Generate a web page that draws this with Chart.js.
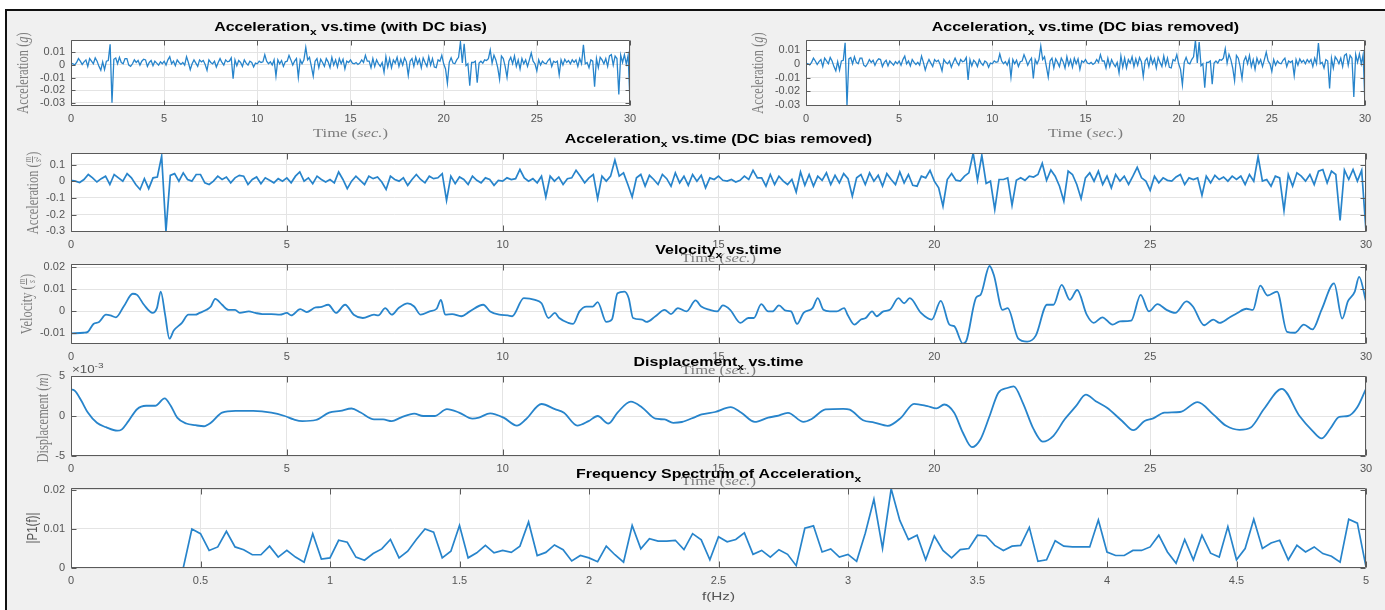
<!DOCTYPE html>
<html>
<head>
<meta charset="utf-8">
<script src="https://cdn.jsdelivr.net/npm/chart.js@4.4.1/dist/chart.umd.min.js"></script>
<style>
html,body{margin:0;padding:0;background:#fff;width:1385px;height:610px;overflow:hidden}
#frame{position:absolute;left:5px;top:9px;width:1380px;height:601px;background:#f0f0f0;border-top:2px solid #111;border-left:2px solid #111;box-sizing:border-box}
canvas{position:absolute;left:0;top:0}
</style>
</head>
<body>
<div id="frame"></div>
<canvas id="c1" width="1385" height="610"></canvas>
<canvas id="c2" width="1385" height="610"></canvas>
<canvas id="c3" width="1385" height="610"></canvas>
<canvas id="c4" width="1385" height="610"></canvas>
<canvas id="c5" width="1385" height="610"></canvas>
<canvas id="c6" width="1385" height="610"></canvas>
<script>
// ---------------- DATA ----------------
const TIME_STEP = 0.1;      // s (10 Hz sampling)
const G = 9.81;             // m/s^2 per g
const DC_BIAS_G = 0.0008;   // g
const FREQ_STEP = 1 / 30;   // Hz (Fs / L)

// Acceleration x, DC bias removed, m/s^2, t = 0 .. 30 s
const accel = [
  0.005, 0.000,-0.008, 0.010, 0.040, 0.020,-0.005, 0.015, 0.030,-0.020,
  0.040, 0.020, 0.000, 0.045, 0.020,-0.020,-0.050, 0.015,-0.045, 0.020,
  0.025, 0.150,-0.300, 0.035, 0.045, 0.000, 0.050, 0.010, 0.000, 0.040,
  0.040,-0.010,-0.020, 0.000, 0.030, 0.010, 0.025,-0.010, 0.020, 0.035,
  0.030,-0.020, 0.010, 0.025,-0.015, 0.020, 0.005,-0.010, 0.015, 0.000,
  0.020,-0.010, 0.030, 0.055, 0.000, 0.020,-0.015, 0.030, 0.010,-0.005,
  0.010,-0.010, 0.055, 0.010,-0.045, 0.000, 0.030, 0.005,-0.020, 0.030,
  0.015, 0.025,-0.005,-0.050, 0.030, 0.010, 0.000, 0.020,-0.025, 0.010,
  0.040, 0.010,-0.010, 0.030, 0.015, 0.020, 0.045,-0.115, 0.030,-0.015,
  0.025, 0.010,-0.020, 0.030, 0.005,-0.010, 0.020, 0.010,-0.025, 0.005,
  0.000, 0.020, 0.010, 0.015, 0.070, 0.020, 0.000, 0.015,-0.010, 0.030,
 -0.095, 0.030, 0.000, 0.025,-0.020, 0.015, 0.020, 0.065, 0.030,-0.010,
  0.020, 0.040,-0.105, 0.030, 0.000, 0.030, 0.127, 0.030, 0.050,-0.020,
 -0.095, 0.020, 0.040,-0.030, 0.035, 0.010,-0.020, 0.040, 0.015,-0.030,
  0.050,-0.010, 0.030,-0.025, 0.040, 0.000, 0.035,-0.040, 0.020, 0.010,
  0.030, 0.005, 0.000, 0.010,-0.005, 0.005, 0.030, 0.010, 0.065, 0.020,
  0.020,-0.030, 0.040,-0.020, 0.030, 0.000,-0.020, 0.010,-0.065, 0.055,
 -0.025, 0.040,-0.030, 0.030, 0.005, 0.050,-0.020, 0.035,-0.010, 0.045,
  0.015,-0.090, 0.020, 0.040,-0.020, 0.050, 0.000, 0.035,-0.030, 0.045,
  0.010,-0.020, 0.055,-0.010, 0.040,-0.025,-0.030, 0.030, 0.020, 0.065,
  0.000,-0.040,-0.150, 0.010, 0.046, 0.006, 0.000, 0.030, 0.050, 0.168,
  0.006, 0.155,-0.014, 0.000,-0.170, 0.010, 0.010, 0.020,-0.145, 0.005,
  0.020, 0.005, 0.030, 0.025, 0.040, 0.107, 0.005, 0.067, 0.030,-0.030,
 -0.120, 0.060, 0.040,-0.020,-0.105, 0.020, 0.050, 0.000, 0.060,-0.020,
  0.030,-0.040, 0.040, 0.000, 0.030,-0.020, 0.030, 0.083, 0.020, 0.000,
 -0.055, 0.030,-0.010, 0.020, 0.005, 0.000, 0.025, 0.040,-0.020, 0.020,
  0.010, 0.020,-0.085, 0.030,-0.010, 0.035, 0.010, 0.025, 0.000, 0.030,
  0.010, 0.030,-0.020, 0.040, 0.000, 0.147, 0.000, 0.010,-0.030, 0.030,
  0.020,-0.176, 0.040,-0.030, 0.050, 0.030, 0.000, 0.040,-0.020, 0.060,
  0.070,-0.010, 0.060, 0.040,-0.236, 0.067, 0.010, 0.070, 0.000, 0.065,
 -0.300
];

// Velocity x (m/s): time (s) and value
const velT = [0,0.29,0.39,0.52,0.65,0.81,0.91,1.04,1.22,1.43,1.53,1.69,1.89,1.99,2.08,2.18,2.28,2.38,2.57,2.72,2.88,2.98,3.14,3.24,3.34,3.50,3.65,3.80,3.91,4.12,4.27,4.43,4.64,4.84,5.00,5.10,5.31,5.46,5.67,5.77,5.96,6.14,6.35,6.55,6.76,7.02,7.12,7.28,7.43,7.59,7.80,7.95,8.10,8.31,8.47,8.57,8.67,8.83,9.04,9.24,9.55,9.71,9.92,10.12,10.22,10.49,10.75,10.90,11.06,11.21,11.31,11.52,11.63,11.78,11.94,12.09,12.20,12.40,12.53,12.66,12.82,12.92,13.02,13.23,13.33,13.54,13.75,13.90,14.06,14.26,14.47,14.60,14.80,14.97,15.10,15.27,15.51,15.69,15.82,15.99,16.15,16.25,16.40,16.56,16.68,16.82,16.97,17.18,17.30,17.43,17.58,17.74,17.91,17.99,18.15,18.30,18.41,18.56,18.66,18.82,18.97,19.17,19.30,19.43,19.69,19.94,20.15,20.35,20.46,20.66,20.74,20.97,21.07,21.28,21.38,21.58,21.70,21.94,22.15,22.35,22.61,22.76,22.95,23.14,23.31,23.53,23.69,23.89,24.13,24.30,24.56,24.78,24.97,25.17,25.38,25.58,25.84,25.99,26.25,26.46,26.61,26.82,27.02,27.23,27.38,27.55,27.72,27.94,28.17,28.35,28.56,28.76,28.97,29.26,29.45,29.58,29.74,29.84,30.00];
const velV = [-0.0100,-0.0097,-0.0093,-0.0057,-0.0048,-0.0015,-0.0018,-0.0027,0.0022,0.0080,0.0075,0.0030,-0.0007,0.0015,0.0090,-0.0015,-0.0124,-0.0087,-0.0052,-0.0015,-0.0015,-0.0007,0.0007,0.0022,0.0057,0.0030,0.0007,0.0007,-0.0007,0.0000,-0.0007,-0.0012,-0.0012,-0.0015,-0.0007,-0.0018,0.0010,-0.0003,0.0018,0.0019,0.0030,-0.0007,0.0030,-0.0015,-0.0030,-0.0015,-0.0018,0.0015,-0.0015,0.0015,0.0036,0.0022,-0.0015,0.0000,0.0012,0.0052,-0.0015,-0.0012,-0.0022,0.0000,0.0030,0.0000,-0.0015,-0.0018,-0.0022,0.0060,0.0052,0.0037,-0.0030,-0.0007,-0.0030,-0.0052,-0.0057,0.0000,0.0022,0.0022,0.0042,-0.0048,-0.0037,0.0082,0.0090,0.0060,-0.0030,-0.0037,-0.0048,-0.0022,0.0007,-0.0012,0.0015,0.0000,0.0050,0.0022,0.0007,0.0000,0.0027,0.0007,-0.0052,-0.0030,-0.0030,0.0033,0.0000,0.0000,0.0027,0.0003,0.0000,-0.0057,-0.0007,0.0015,0.0060,0.0007,0.0000,0.0000,0.0015,-0.0015,-0.0060,-0.0037,-0.0030,0.0000,-0.0022,0.0000,0.0007,0.0060,0.0037,0.0060,-0.0007,-0.0037,0.0048,-0.0060,-0.0067,-0.0146,-0.0134,0.0063,0.0075,0.0206,0.0164,0.0007,0.0015,-0.0122,-0.0137,-0.0110,0.0030,0.0030,0.0120,0.0052,0.0097,-0.0015,-0.0052,-0.0027,-0.0060,-0.0045,-0.0042,0.0075,0.0000,0.0033,0.0007,-0.0007,0.0045,0.0022,-0.0063,-0.0037,-0.0052,-0.0030,-0.0007,0.0012,0.0007,0.0117,0.0072,0.0090,-0.0093,-0.0097,-0.0060,-0.0082,0.0007,0.0127,-0.0033,0.0045,0.0090,0.0157,0.0045];

// Displacement x (units of 1e-3 m): time (s) and value
const dispT = [0,0.08,0.24,0.39,0.60,0.81,1.07,1.17,1.33,1.53,1.74,1.95,2.17,2.31,2.46,2.67,2.88,3.08,3.24,3.50,3.81,4.22,4.64,4.95,5.16,5.36,5.67,5.98,6.24,6.50,6.71,7.02,7.23,7.43,7.64,7.95,8.16,8.42,8.71,8.99,9.30,9.45,9.71,10.02,10.33,10.54,10.90,11.21,11.42,11.73,11.99,12.20,12.45,12.66,12.97,13.23,13.54,13.75,13.95,14.15,14.47,14.61,14.92,15.28,15.53,15.84,16.15,16.35,16.61,16.97,17.15,17.48,17.89,18.04,18.35,18.61,18.92,19.23,19.53,19.84,20.05,20.23,20.46,20.66,20.87,21.07,21.28,21.48,21.69,21.84,22.05,22.30,22.51,22.76,23.02,23.28,23.51,23.74,24.00,24.35,24.61,24.87,25.07,25.33,25.69,26.10,26.46,26.76,27.07,27.33,27.64,28.05,28.46,28.76,28.97,29.17,29.38,29.58,29.79,30.00];
const dispV = [3.3,3.2,1.9,0.43,-0.85,-1.4,-1.84,-1.7,-0.64,0.85,1.28,1.28,2.2,1.28,-0.2,-0.94,-1.15,-1.28,-0.85,0.43,0.64,0.64,0.43,0.0,-0.43,-0.64,-0.5,0.43,0.64,0.94,0.43,-0.43,-0.43,-0.64,-0.2,0.3,0.0,0.0,0.85,0.43,-0.34,-0.2,0.34,-0.2,-1.2,-0.4,1.5,0.85,0.4,-1.2,-0.64,0.0,-0.94,0.43,1.8,1.07,-0.34,-0.43,-0.85,-0.75,-0.1,0.2,0.5,1.1,0.4,-0.74,-0.2,0.0,0.4,-0.74,-0.4,0.82,0.9,0.8,-0.53,-0.82,-1.23,-0.2,1.52,1.23,0.95,1.44,0.41,-2.06,-3.9,-2.9,0.0,2.88,3.5,3.7,1.65,-1.65,-3.2,-2.47,-0.41,1.23,2.67,1.85,1.03,-0.62,-1.77,-0.62,-0.3,0.41,0.5,1.73,0.2,-1.23,-1.73,-1.44,0.9,3.4,0.0,-1.85,-2.8,-1.6,-0.1,0.0,1.03,3.4];

// Single-sided amplitude spectrum |P1(f)|, f = k * FREQ_STEP, k = 0..150
const spectrum = [
  0,0,0,0,0,0,0,0,0,0,0,0,0,0,
  0.0100,0.0088,0.0045,0.0054,0.0094,0.0054,0.0047,0.0034,0.0034,0.0056,
  0.0028,0.0045,0.0028,0.0015,0.0088,0.0023,0.0026,0.0071,0.0066,0.0028,
  0.0020,0.0037,0.0049,0.0073,0.0026,0.0043,0.0073,0.0100,0.0092,0.0026,
  0.0043,0.0109,0.0026,0.0039,0.0058,0.0039,0.0045,0.0040,0.0056,0.0118,
  0.0032,0.0040,0.0059,0.0047,0.0018,0.0032,0.0026,0.0016,0.0056,0.0034,
  0.0015,0.0109,0.0049,0.0075,0.0069,0.0069,0.0071,0.0047,0.0088,0.0072,
  0.0021,0.0080,0.0067,0.0073,0.0090,0.0035,0.0045,0.0028,0.0047,0.0035,
  0.0006,0.0102,0.0108,0.0041,0.0049,0.0028,0.0035,0.0017,0.0089,0.0176,
  0.0050,0.0203,0.0122,0.0073,0.0084,0.0021,0.0082,0.0045,0.0026,0.0047,
  0.0050,0.0084,0.0082,0.0058,0.0045,0.0056,0.0058,0.0104,0.0017,0.0021,
  0.0070,0.0056,0.0054,0.0054,0.0054,0.0123,0.0041,0.0032,0.0032,0.0045,
  0.0045,0.0054,0.0084,0.0041,0.0012,0.0073,0.0021,0.0084,0.0038,0.0028,
  0.0106,0.0021,0.0050,0.0125,0.0050,0.0064,0.0071,0.0021,0.0058,0.0041,
  0.0054,0.0037,0.0030,0.0015,0.0125,0.0115,0.0003
];

// Tick values
const xTicksTime = [0, 5, 10, 15, 20, 25, 30];
const xTicksFreq = [0, 0.5, 1, 1.5, 2, 2.5, 3, 3.5, 4, 4.5, 5];
const yTicksAccG = [-0.03, -0.02, -0.01, 0, 0.01];
const yTicksAccMS = [-0.3, -0.2, -0.1, 0, 0.1];
const yTicksVel = [-0.01, 0, 0.01, 0.02];
const yTicksDisp = [-5, 0, 5];
const yTicksSpec = [0, 0.01, 0.02];

// ---------------- STYLE ----------------
const W = 1385, H = 610;
const SANS = '"Liberation Sans", Arial, Helvetica, sans-serif';
const SERIF = '"Liberation Serif", "Times New Roman", serif';
const SX = 1.33; // horizontal text stretch seen in the figure
const LINE_COLOR = '#2784cb';
const AXIS_COLOR = '#5a5a5a';
const GRID_COLOR = '#e4e4e4';
const TICK_TEXT = '#555555';
const LABEL_TEXT = '#7d7d7d';

function T(text, font, opt) { return Object.assign({ text: text, font: font }, opt || {}); }
const titleFont = 'bold 12px ' + SANS, subFont = 'bold 9px ' + SANS;
function titleSegs(main, rest) { return [T(main, titleFont), T('x', subFont, { dy: 4 }), T(rest, titleFont)]; }
const serifN = '12.5px ' + SERIF, serifI = 'italic 12.5px ' + SERIF, fracFont = 'italic 7.5px ' + SERIF;
const timeLabel = [T('Time (', serifN), T('sec.', serifI), T(')', serifN)];
const accGLabel = [T('Acceleration (', serifN), T('g', serifI), T(')', serifN)];
const accMSLabel = [T('Acceleration (', serifN), { frac: true, num: 'm', den: 's\u00B2', font: fracFont }, T(')', serifN)];
const velLabel = [T('Velocity (', serifN), { frac: true, num: 'm', den: 's', font: fracFont }, T(')', serifN)];
const dispLabel = [T('Displacement (', serifN), T('m', serifI), T(')', serifN)];
const specLabel = [T('|P1(f)|', '11.5px ' + SANS)];
const freqLabel = [T('f(Hz)', '11.5px ' + SANS)];
const expLabel = [T('\u00D710', '10px ' + SANS), T('-3', '7.5px ' + SANS, { dy: -5 })];

function segWidth(ctx, s) {
  ctx.font = s.font;
  if (s.frac) return Math.max(ctx.measureText(s.num).width, ctx.measureText(s.den).width) + 2;
  return ctx.measureText(s.text).width;
}
function drawRich(ctx, segs, x, y, opt) {
  ctx.save();
  ctx.translate(x, y);
  ctx.scale(SX, 1);
  if (opt.rot) ctx.rotate(opt.rot);
  let total = 0;
  segs.forEach(s => total += segWidth(ctx, s));
  let cx = opt.align === 'left' ? 0 : -total / 2;
  ctx.textAlign = 'left';
  ctx.textBaseline = 'alphabetic';
  ctx.fillStyle = opt.color;
  segs.forEach(s => {
    const w = segWidth(ctx, s);
    ctx.font = s.font;
    if (s.frac) {
      const wn = ctx.measureText(s.num).width, wd = ctx.measureText(s.den).width;
      ctx.fillText(s.num, cx + (w - wn) / 2, -5.5);
      ctx.fillText(s.den, cx + (w - wd) / 2, 2.5);
      ctx.fillRect(cx + 0.5, -4.5, w - 1, 0.7);
    } else {
      ctx.fillText(s.text, cx, s.dy || 0);
    }
    cx += w;
  });
  ctx.restore();
}

const fmt = v => String(parseFloat(Number(v).toFixed(6)));

// ---------------- PANELS ----------------
const timeAxis = accel.map((_, i) => +(i * TIME_STEP).toFixed(1));
const PANELS = {
  c1: { box: [71, 40, 630, 106], xMin: 0, xMax: 30, yMin: -0.0324, yMax: 0.0195,
        xTicks: xTicksTime, yTicks: yTicksAccG, lw: 1.3, smooth: false, tl: 5, ytl: 4,
        points: accel.map((a, i) => ({ x: timeAxis[i], y: a / G + DC_BIAS_G })),
        title: { segs: titleSegs('Acceleration', ' vs.time (with DC bias)'), x: 350.5, y: 30.5 },
        xlabel: { segs: timeLabel, x: 350.5, y: 137 },
        ylabel: { segs: accGLabel, x: 28, y: 73 } },
  c2: { box: [806, 40, 1365, 106], xMin: 0, xMax: 30, yMin: -0.0307, yMax: 0.0173,
        xTicks: xTicksTime, yTicks: yTicksAccG, lw: 1.3, smooth: false, tl: 5, ytl: 4,
        points: accel.map((a, i) => ({ x: timeAxis[i], y: a / G })),
        title: { segs: titleSegs('Acceleration', ' vs.time (DC bias removed)'), x: 1085.5, y: 30.5 },
        xlabel: { segs: timeLabel, x: 1085.5, y: 137 },
        ylabel: { segs: accGLabel, x: 763, y: 73 } },
  c3: { box: [71, 153, 1366, 232], xMin: 0, xMax: 30, yMin: -0.305, yMax: 0.169,
        xTicks: xTicksTime, yTicks: yTicksAccMS, lw: 1.7, smooth: false, tl: 6, ytl: 5,
        points: accel.map((a, i) => ({ x: timeAxis[i], y: a })),
        title: { segs: titleSegs('Acceleration', ' vs.time (DC bias removed)'), x: 718.5, y: 143 },
        xlabel: { segs: timeLabel, x: 718.5, y: 262 },
        ylabel: { segs: accMSLabel, x: 38, y: 193 } },
  c4: { box: [71, 264, 1366, 344], xMin: 0, xMax: 30, yMin: -0.0148, yMax: 0.0215,
        xTicks: xTicksTime, yTicks: yTicksVel, lw: 1.8, smooth: true, tl: 6, ytl: 5,
        points: velT.map((t, i) => ({ x: t, y: velV[i] })),
        title: { segs: titleSegs('Velocity', ' vs.time'), x: 718.5, y: 254 },
        xlabel: { segs: timeLabel, x: 718.5, y: 374 },
        ylabel: { segs: velLabel, x: 32, y: 304 } },
  c5: { box: [71, 376, 1366, 456], xMin: 0, xMax: 30, yMin: -5, yMax: 5,
        xTicks: xTicksTime, yTicks: yTicksDisp, lw: 1.8, smooth: true, tl: 6, ytl: 5,
        points: dispT.map((t, i) => ({ x: t, y: dispV[i] })),
        title: { segs: titleSegs('Displacement', ' vs.time'), x: 718.5, y: 366 },
        xlabel: { segs: timeLabel, x: 718.5, y: 485 },
        ylabel: { segs: dispLabel, x: 48, y: 418 },
        extra: { segs: expLabel, x: 72, y: 373 } },
  c6: { box: [71, 488, 1366, 568], xMin: 0, xMax: 5, yMin: 0, yMax: 0.0205,
        xTicks: xTicksFreq, yTicks: yTicksSpec, lw: 1.7, smooth: false, tl: 6, ytl: 5,
        points: spectrum.map((v, k) => ({ x: k * FREQ_STEP, y: v })),
        title: { segs: titleSegs('Frequency Spectrum of Acceleration', ''), x: 718.5, y: 478 },
        xlabel: { segs: freqLabel, x: 718.5, y: 600 },
        ylabel: { segs: specLabel, x: 37, y: 528 } }
};

const matlabAxes = {
  id: 'matlabAxes',
  beforeDraw(chart) {
    const { ctx, chartArea: a } = chart;
    ctx.save();
    ctx.fillStyle = '#ffffff';
    ctx.fillRect(a.left, a.top, a.width, a.height);
    ctx.restore();
  },
  afterDatasetsDraw(chart) {
    const p = PANELS[chart.canvas.id];
    const { ctx, chartArea: a, scales: { x, y } } = chart;
    ctx.save();
    ctx.strokeStyle = AXIS_COLOR;
    ctx.lineWidth = 1;
    const L = Math.round(a.left) + 0.5, R = Math.round(a.right) - 0.5;
    const Tt = Math.round(a.top) + 0.5, B = Math.round(a.bottom) - 0.5;
    ctx.beginPath();
    ctx.rect(L, Tt, R - L, B - Tt);
    x.ticks.forEach(t => {
      const px = Math.round(x.getPixelForValue(t.value)) + 0.5;
      ctx.moveTo(px, Tt); ctx.lineTo(px, Tt + p.tl);
      ctx.moveTo(px, B); ctx.lineTo(px, B - p.tl);
    });
    y.ticks.forEach(t => {
      const py = Math.round(y.getPixelForValue(t.value)) + 0.5;
      ctx.moveTo(L, py); ctx.lineTo(L + p.ytl, py);
      ctx.moveTo(R, py); ctx.lineTo(R - p.ytl, py);
    });
    ctx.stroke();
    ctx.restore();
  },
  afterDraw(chart) {
    const p = PANELS[chart.canvas.id];
    const ctx = chart.ctx;
    drawRich(ctx, p.xlabel.segs, p.xlabel.x, p.xlabel.y, { color: p.xlabel.segs === freqLabel ? TICK_TEXT : LABEL_TEXT });
    drawRich(ctx, p.ylabel.segs, p.ylabel.x, p.ylabel.y, { rot: -Math.PI / 2, color: p.ylabel.segs === specLabel ? TICK_TEXT : LABEL_TEXT });
    if (p.extra) drawRich(ctx, p.extra.segs, p.extra.x, p.extra.y, { align: 'left', color: TICK_TEXT });
    drawRich(ctx, p.title.segs, p.title.x, p.title.y, { color: '#000000' });
  }
};

function makePanel(id) {
  const p = PANELS[id];
  const [l, t, r, b] = p.box;
  const YW = 50, XH = 30;
  const tickFont = { family: SANS, size: 11 };
  new Chart(document.getElementById(id), {
    type: 'line',
    data: { datasets: [{ data: p.points, borderColor: LINE_COLOR, borderWidth: p.lw, pointRadius: 0,
      fill: false, tension: 0, cubicInterpolationMode: p.smooth ? 'monotone' : 'default' }] },
    options: {
      responsive: false, animation: false, devicePixelRatio: 1, events: [],
      layout: { autoPadding: false, padding: { left: l - YW, top: t, right: W - r, bottom: H - b - XH } },
      plugins: { legend: { display: false }, tooltip: { enabled: false }, title: { display: false } },
      scales: {
        x: { type: 'linear', min: p.xMin, max: p.xMax,
          afterBuildTicks: s => { s.ticks = p.xTicks.map(v => ({ value: v })); },
          afterFit: s => { s.height = XH; s.paddingLeft = 0; s.paddingRight = 0; },
          grid: { color: GRID_COLOR, drawTicks: false, lineWidth: 1 },
          border: { display: false },
          ticks: { color: TICK_TEXT, font: tickFont, padding: 6, maxRotation: 0, autoSkip: false, includeBounds: false, callback: v => fmt(v) } },
        y: { type: 'linear', min: p.yMin, max: p.yMax,
          afterBuildTicks: s => { s.ticks = p.yTicks.map(v => ({ value: v })); },
          afterFit: s => { s.width = YW; s.paddingTop = 0; s.paddingBottom = 0; },
          grid: { color: GRID_COLOR, drawTicks: false, lineWidth: 1 },
          border: { display: false },
          ticks: { color: TICK_TEXT, font: tickFont, padding: 6, autoSkip: false, includeBounds: false, callback: v => fmt(v) } }
      }
    },
    plugins: [matlabAxes]
  });
}
['c1', 'c2', 'c3', 'c4', 'c5', 'c6'].forEach(makePanel);
</script>
</body>
</html>
